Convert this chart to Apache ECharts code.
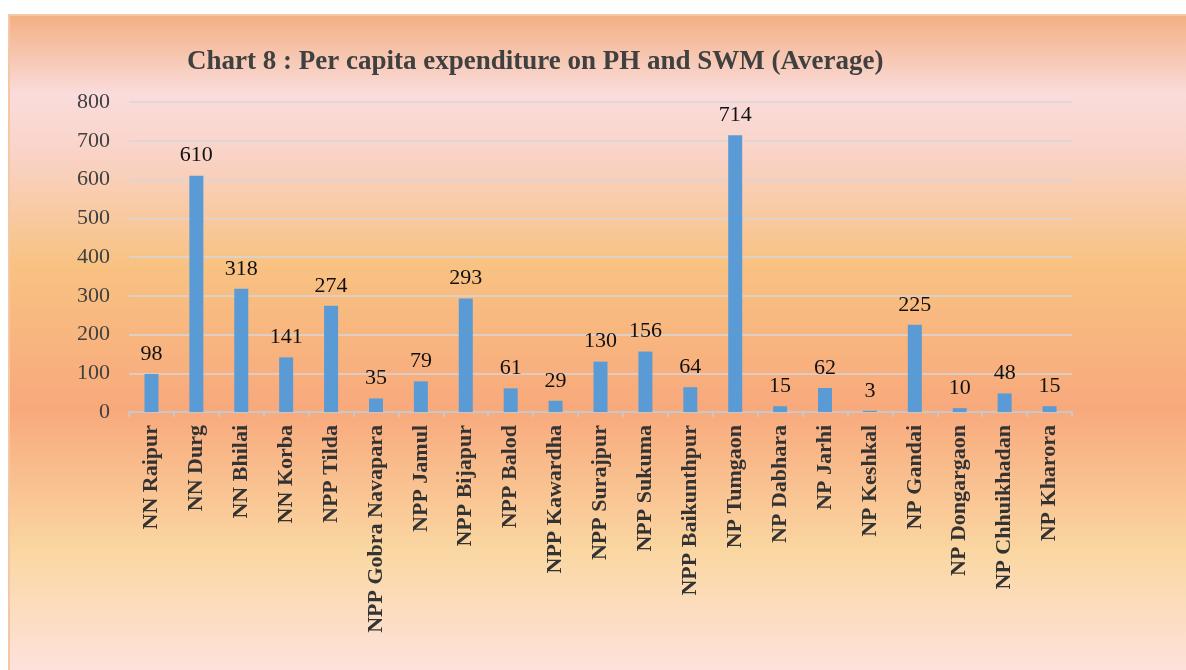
<!DOCTYPE html>
<html>
<head>
<meta charset="utf-8">
<script src="https://cdn.jsdelivr.net/npm/echarts@6/dist/echarts.min.js"></script>
<style>
	html, body { margin: 0; padding: 0; background: #ffffff; }
	#chart {
		position: absolute;
		left: 8px;
		top: 14px;
		width: 1178px;
		height: 656px;
		border-left: 2px solid #f5c7a4;
		border-top: 2px solid #f5c7a4;
		box-sizing: border-box;
	}
</style>
</head>
<body>
<div id="chart"></div>
<script>
	// categories and values
	var categories = ['NN Raipur', 'NN Durg', 'NN Bhilai', 'NN Korba', 'NPP Tilda', 'NPP Gobra Navapara',
		'NPP Jamul', 'NPP Bijapur', 'NPP Balod', 'NPP Kawardha', 'NPP Surajpur', 'NPP Sukuma',
		'NPP Baikunthpur', 'NP Tumgaon', 'NP Dabhara', 'NP Jarhi', 'NP Keshkal', 'NP Gandai',
		'NP Dongargaon', 'NP Chhuikhadan', 'NP Kharora'];
	var expenditure = [98, 610, 318, 141, 274, 35, 79, 293, 61, 29, 130, 156, 64, 714, 15, 62, 3, 225, 10, 48, 15];
	var yTicks = [0, 100, 200, 300, 400, 500, 600, 700, 800];

	var chart = echarts.init(document.getElementById('chart'));

	// background gradient like the office chart fill
	var bg = new echarts.graphic.LinearGradient(0, 0, 0, 1, [
		{ offset: 0, color: '#f3b083' },
		{ offset: 0.12, color: '#fadcdc' },
		{ offset: 0.22, color: '#f9d2c4' },
		{ offset: 0.38, color: '#f8c282' },
		{ offset: 0.6, color: '#f8a97c' },
		{ offset: 0.82, color: '#fad7a2' },
		{ offset: 1, color: '#fde2dc' }
	]);

	var option = {
		backgroundColor: bg,
		animation: false,
		title: {
			text: 'Chart 8 : Per capita expenditure on PH and SWM (Average)',
			left: 172,
			top: 28,
			textStyle: {
				fontFamily: 'Liberation Serif',
				fontWeight: 'bold',
				fontSize: 27,
				color: '#404040'
			}
		},
		grid: {
			left: 119,
			top: 86,
			right: 114,
			bottom: 258
		},
		xAxis: {
			type: 'category',
			data: categories,
			axisLine: { lineStyle: { color: '#c8c8c8', width: 2 } },
			axisTick: { show: true, length: 5, lineStyle: { color: '#c8c8c8', width: 2 } },
			axisLabel: {
				rotate: 90,
				interval: 0,
				margin: 13,
				fontFamily: 'Liberation Serif',
				fontWeight: 'bold',
				fontSize: 22,
				color: '#333333'
			}
		},
		yAxis: {
			type: 'value',
			min: yTicks[0],
			max: yTicks[yTicks.length - 1],
			interval: 100,
			axisLine: { show: false },
			axisTick: { show: false },
			axisLabel: {
				margin: 19,
				fontFamily: 'Liberation Serif',
				fontSize: 22,
				color: '#404040'
			},
			splitLine: { lineStyle: { color: '#d6d6da', width: 1.5 } }
		},
		series: [{
			type: 'bar',
			data: expenditure,
			barWidth: 14,
			itemStyle: { color: '#5b9bd5' },
			label: {
				show: true,
				position: 'top',
				distance: 9,
				fontFamily: 'Liberation Serif',
				fontSize: 22,
				color: '#111111'
			}
		}]
	};

	chart.setOption(option);
</script>
</body>
</html>
